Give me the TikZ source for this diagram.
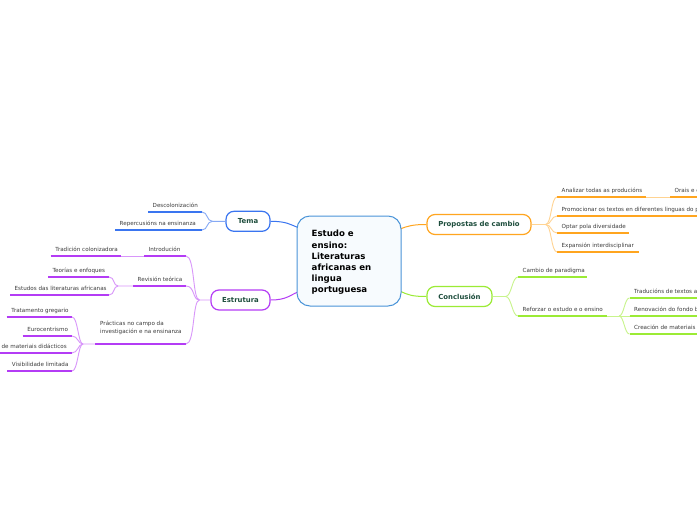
\documentclass[tikz,border=0pt]{standalone}
\usepackage{fontspec}
\setmainfont{DejaVu Sans}
\usetikzlibrary{calc}
\definecolor{cblue}{HTML}{3A75F0}
\definecolor{cbluel}{HTML}{86A9F5}
\definecolor{ccenter}{HTML}{4A94D8}
\definecolor{cfill}{HTML}{F7FBFE}
\definecolor{cpurp}{HTML}{B43CF5}
\definecolor{cpurpl}{HTML}{D896FA}
\definecolor{corange}{HTML}{FFA51F}
\definecolor{corangel}{HTML}{FFD391}
\definecolor{cgreen}{HTML}{9BEB35}
\definecolor{cgreenl}{HTML}{C8F48C}
\definecolor{ctitle}{HTML}{1D4D3C}
\definecolor{ctext}{HTML}{3C3C3C}
\tikzset{
  leaftext/.style={inner sep=0pt, text=ctext, font=\fontsize{5.6}{7.5}\selectfont},
  uline/.style={draw=#1, line width=2pt},
  conn/.style={draw=#1, line width=0.9pt},
  mainlink/.style={draw=#1, line width=1pt},
  topic/.style={draw=#1, fill=white, line width=1.2pt, rounded corners=8pt,
    minimum height=20pt, inner sep=0pt, text=ctitle,
    font=\bfseries\fontsize{6.9}{8}\selectfont},
}
\newcommand\mmleaf[6]{%
  \coordinate (#1L) at (#2,#4);
  \coordinate (#1R) at (#3,#4);
  \draw[uline=#5] (#1L) -- (#1R);
  \node[leaftext, anchor=base west] (#1) at ($(#1L)+(4.5,-4.5)$) {#6};
}
\begin{document}
\begin{tikzpicture}[x=1pt,y=-1pt]
\useasboundingbox (0,0) rectangle (697,520);
\clip (0,0) rectangle (697,520);
\fill[white] (0,0) rectangle (697,520);

% ---------- connectors centre -> topics (drawn first)
\coordinate (cTema) at (298,227.5);
\coordinate (cEstr) at (298,292);
\coordinate (cProp) at (400,229);
\coordinate (cConc) at (400,291);

% ---------- main topics
\node[topic=cblue, minimum width=44pt] (tema) at (248,221.3) {Tema};
\node[topic=cpurp, minimum width=59pt] (estr) at (240.5,300) {Estrutura};
\node[topic=corange, minimum width=104pt] (prop) at (479,224.5) {Propostas de cambio};
\node[topic=cgreen, minimum width=65pt] (conc) at (459.5,296.5) {Conclusión};

\draw[mainlink=cblue] (tema.east) .. controls +(16,0) and +(-8,-3) .. (cTema);
\draw[mainlink=cpurp] (estr.east) .. controls +(16,0) and +(-8,3) .. (cEstr);
\draw[mainlink=corange] (cProp) .. controls +(8,-3) and +(-14,0) .. (prop.west);
\draw[mainlink=cgreen] (cConc) .. controls +(8,4) and +(-14,0) .. (conc.west);

% ---------- central topic
\node[draw=ccenter, fill=cfill, line width=1pt, rounded corners=13pt,
  minimum width=104pt, minimum height=90pt, inner sep=0pt] (centre) at (349,261) {};
\node[anchor=west, inner sep=0pt, align=left, text=black,
  font=\bfseries\fontsize{8.6}{11.2}\selectfont] (centretext) at (311.5,262.5)
  {Estudo e\\ensino:\\Literaturas\\africanas en\\lingua\\portuguesa};

% ---------- Tema leaves
\mmleaf{descol}{148}{202}{212}{cblue}{Descolonización}
\mmleaf{reperc}{115}{202}{230}{cblue}{Repercusións na ensinanza}
\coordinate (temaJ) at ($(tema.west)+(-13,0)$);
\draw[conn=cbluel] (descolR) .. controls +(6,0) and +(-6,0) .. (temaJ) -- (tema.west);
\draw[conn=cbluel] (repercR) .. controls +(6,0) and +(-6,0) .. (temaJ);

% ---------- Estrutura leaves
\mmleaf{intro}{144}{186}{256}{cpurp}{Introdución}
\mmleaf{tradic}{50.7}{120.7}{256}{cpurp}{Tradición colonizadora}
\mmleaf{revis}{133}{186}{286}{cpurp}{Revisión teórica}
\mmleaf{teor}{48}{109}{277}{cpurp}{Teorías e enfoques}
\mmleaf{estud}{10}{109}{295}{cpurp}{Estudos das literaturas africanas}
\coordinate (pracL) at (95,344);
\coordinate (pracR) at (186,344);
\draw[uline=cpurp] (pracL) -- (pracR);
\node[leaftext, anchor=north west, align=left] (prac) at (100,321.3)
  {Prácticas no campo da\\investigación e na ensinanza};
\mmleaf{trat}{6.7}{72}{317}{cpurp}{Tratamento gregario}
\mmleaf{euro}{22.7}{72}{336}{cpurp}{Eurocentrismo}
\coordinate (escasL) at (-40,353);
\coordinate (escasR) at (72,353);
\draw[uline=cpurp] (escasL) -- (escasR);
\node[leaftext, anchor=base east] (escas) at ($(escasR)+(-5,-4.5)$) {Escaseza de materiais didácticos};
\mmleaf{visib}{7.3}{72}{371}{cpurp}{Visibilidade limitada}

\coordinate (estrJ) at ($(estr.west)+(-11,0)$);
\draw[conn=cpurpl] (introR) .. controls +(9,0) and +(-7,0) .. (estrJ) -- (estr.west);
\draw[conn=cpurpl] (revisR) .. controls +(9,0) and +(-7,0) .. (estrJ);
\draw[conn=cpurpl] (pracR) .. controls +(9,0) and +(-7,0) .. (estrJ);
\draw[conn=cpurpl] (tradicR) -- (introL);
\coordinate (revJ) at ($(revisL)+(-15,0)$);
\draw[conn=cpurpl] (teorR) .. controls +(6,0) and +(-5,0) .. (revJ) -- (revisL);
\draw[conn=cpurpl] (estudR) .. controls +(6,0) and +(-5,0) .. (revJ);
\coordinate (pracJ) at ($(pracL)+(-12,0)$);
\draw[conn=cpurpl] (tratR) .. controls +(6,0) and +(-5,0) .. (pracJ) -- (pracL);
\draw[conn=cpurpl] (euroR) .. controls +(6,0) and +(-5,0) .. (pracJ);
\draw[conn=cpurpl] (escasR) .. controls +(6,0) and +(-5,0) .. (pracJ);
\draw[conn=cpurpl] (visibR) .. controls +(6,0) and +(-5,0) .. (pracJ);

% ---------- Propostas leaves
\mmleaf{analiz}{557}{646}{197}{corange}{Analizar todas as producións}
\mmleaf{orais}{670}{780}{197}{corange}{Orais e escritas}
\mmleaf{promo}{557}{780}{216}{corange}{Promocionar os textos en diferentes linguas do país}
\mmleaf{optar}{557}{629}{233}{corange}{Optar pola diversidade}
\mmleaf{expan}{557}{639}{252}{corange}{Expansión interdisciplinar}
\coordinate (propJ) at ($(prop.east)+(14,0)$);
\draw[conn=corangel] (prop.east) -- (propJ);
\foreach \n in {analiz,promo,optar,expan}
  \draw[conn=corangel] (propJ) .. controls +(6,0) and +(-6,0) .. (\n L);
\draw[conn=corangel] (analizR) -- (oraisL);

% ---------- Conclusión leaves
\mmleaf{cambio}{518}{587}{277}{cgreen}{Cambio de paradigma}
\mmleaf{refor}{518}{607}{316}{cgreen}{Reforzar o estudo e o ensino}
\mmleaf{trad}{629.5}{780}{298}{cgreen}{Traducións de textos africanos}
\mmleaf{renov}{629.5}{780}{316}{cgreen}{Renovación do fondo bibliográfico}
\mmleaf{creac}{629.5}{780}{334}{cgreen}{Creación de materiais didácticos}
\coordinate (concJ) at ($(conc.east)+(13,0)$);
\draw[conn=cgreenl] (conc.east) -- (concJ);
\draw[conn=cgreenl] (concJ) .. controls +(6,0) and +(-6,0) .. (cambioL);
\draw[conn=cgreenl] (concJ) .. controls +(6,0) and +(-6,0) .. (reforL);
\coordinate (refJ) at ($(reforR)+(12,0)$);
\draw[conn=cgreenl] (reforR) -- (refJ);
\foreach \n in {trad,renov,creac}
  \draw[conn=cgreenl] (refJ) .. controls +(5,0) and +(-5,0) .. (\n L);
\end{tikzpicture}
\end{document}
